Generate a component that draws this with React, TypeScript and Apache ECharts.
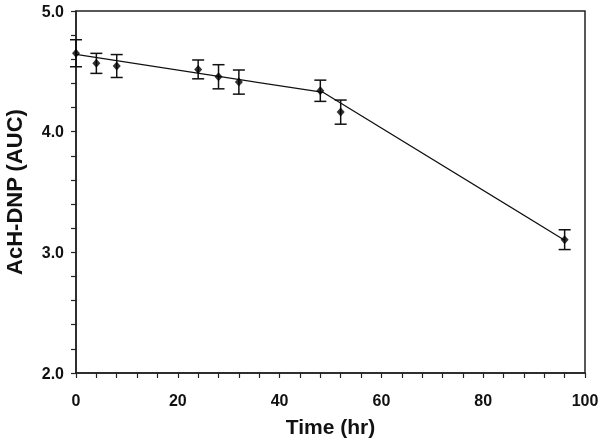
import React, { useEffect, useRef } from "react";
import * as echarts from "echarts";

const times = [0, 4, 8, 24, 28, 32, 48, 52, 96];
const values = [4.65, 4.566, 4.544, 4.516, 4.455, 4.411, 4.339, 4.162, 3.105];
const errors = [0.112, 0.083, 0.095, 0.078, 0.1, 0.1, 0.088, 0.1, 0.082];
const fitLine: [number, number][] = [
  [0, 4.64],
  [48.6, 4.325],
  [96, 3.1],
];
const xMajor = [0, 20, 40, 60, 80, 100];
const yMajor = [2, 3, 4, 5];

export default function App() {
  const ref = useRef<HTMLDivElement>(null);
  useEffect(() => {
    if (!ref.current) return;
    const chart = echarts.init(ref.current, undefined, { renderer: "svg" });
    const font = "'Liberation Sans', Arial, sans-serif";
    const points = times.map((t, i) => [t, values[i]]);
    const errData = times.map((t, i) => [t, values[i] - errors[i], values[i] + errors[i]]);
    const isMajor = (v: number, list: number[]) => list.some((m) => Math.abs(m - v) < 1e-6);
    chart.setOption({
      animation: false,
      grid: {
        left: 76,
        right: 19,
        top: 11,
        bottom: 73,
        containLabel: false,
        outerBoundsMode: "none",
        show: true,
        borderColor: "#222",
        borderWidth: 1.5,
        backgroundColor: "transparent",
      },
      xAxis: {
        type: "value",
        min: 0,
        max: 100,
        interval: 4,
        name: "Time (hr)",
        nameLocation: "middle",
        nameGap: 43,
        nameTextStyle: { fontFamily: font, fontWeight: "bold", fontSize: 21, color: "#111" },
        axisLine: { show: true, lineStyle: { color: "#222", width: 1.5 } },
        axisTick: { show: true, inside: false, length: 5, lineStyle: { color: "#222", width: 1.2 } },
        axisLabel: {
          fontFamily: font,
          fontWeight: "bold",
          fontSize: 16,
          color: "#111",
          margin: 19,
          showMinLabel: true,
          showMaxLabel: true,
          hideOverlap: false,
          interval: 0,
          formatter: (v: number) => (isMajor(v, xMajor) ? String(Math.round(v)) : ""),
        },
        splitLine: { show: false },
      },
      yAxis: {
        type: "value",
        min: 2,
        max: 5,
        interval: 0.2,
        name: "AcH-DNP (AUC)",
        nameLocation: "middle",
        nameGap: 51,
        nameTextStyle: { fontFamily: font, fontWeight: "bold", fontSize: 22, color: "#111" },
        axisLine: { show: true, lineStyle: { color: "#222", width: 1.5 } },
        axisTick: { show: true, inside: false, length: 5, lineStyle: { color: "#222", width: 1.2 } },
        axisLabel: {
          fontFamily: font,
          fontWeight: "bold",
          fontSize: 16,
          color: "#111",
          margin: 12,
          interval: 0,
          hideOverlap: false,
          formatter: (v: number) => (isMajor(v, yMajor) ? v.toFixed(1) : ""),
        },
        splitLine: { show: false },
      },
      series: [
        {
          type: "line",
          data: fitLine,
          symbol: "none",
          lineStyle: { color: "#111", width: 1.3 },
          z: 2,
        },
        {
          type: "custom",
          data: errData,
          renderItem: (params: any, api: any) => {
            const x = api.value(0);
            const lo = api.coord([x, api.value(1)]);
            const hi = api.coord([x, api.value(2)]);
            const w = 6;
            const style = { stroke: "#111", lineWidth: 1.5 };
            return {
              type: "group",
              children: [
                { type: "line", shape: { x1: lo[0], y1: lo[1], x2: hi[0], y2: hi[1] }, style },
                { type: "line", shape: { x1: lo[0] - w, y1: lo[1], x2: lo[0] + w, y2: lo[1] }, style },
                { type: "line", shape: { x1: hi[0] - w, y1: hi[1], x2: hi[0] + w, y2: hi[1] }, style },
              ],
            };
          },
          z: 3,
        },
        {
          type: "scatter",
          data: points,
          symbol: "diamond",
          symbolSize: [8, 9],
          itemStyle: { color: "#000" },
          z: 4,
        },
      ],
    });
    return () => chart.dispose();
  }, []);
  return (
    <div
      ref={ref}
      style={{ position: "fixed", left: 0, top: 0, width: 604, height: 446 }}
    />
  );
}
